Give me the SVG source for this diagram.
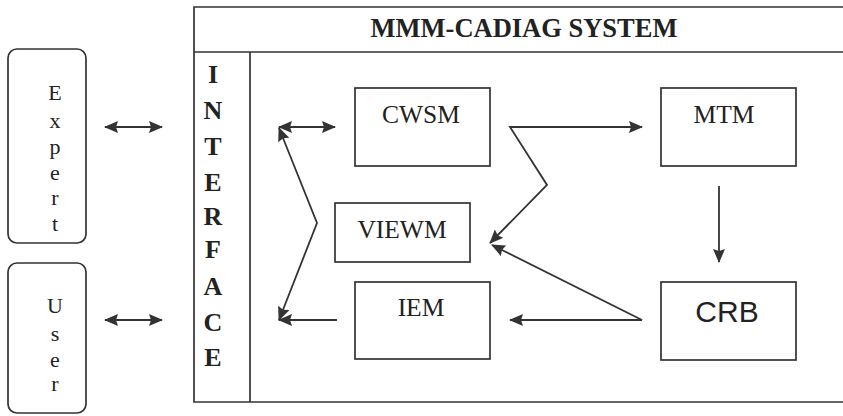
<svg xmlns="http://www.w3.org/2000/svg" width="843" height="416" viewBox="0 0 843 416">
  <defs>
    <marker id="arrow" viewBox="0 0 14 12" refX="13" refY="6" markerWidth="14" markerHeight="12" markerUnits="userSpaceOnUse" orient="auto-start-reverse">
      <path d="M0,0 L14,6 L0,12 L2,6 z" fill="#333"/>
    </marker>
    <style>
      .box { fill: none; stroke: #333; stroke-width: 1.7; }
      .con { fill: none; stroke: #333; stroke-width: 1.8; }
      .lbl { font-family: "Liberation Serif", "Times New Roman", serif; font-size: 25.5px; fill: #222; text-anchor: middle; }
      .side { font-family: "Liberation Serif", "Times New Roman", serif; font-size: 22px; fill: #222; text-anchor: middle; }
      .iface { font-family: "Liberation Serif", "Times New Roman", serif; font-size: 26px; font-weight: bold; fill: #222; text-anchor: middle; }
    </style>
  </defs>
  <rect width="843" height="416" fill="#ffffff"/>

  <!-- system frame with title band and interface column -->
  <g id="system">
    <path class="box" d="M850,7 H194 V402 H850 M194,52 H850 M250,52 V402"/>
    <text x="524" y="37" style="font-family:'Liberation Serif','Times New Roman',serif;font-size:26.5px;font-weight:bold;fill:#222" text-anchor="middle">MMM-CADIAG SYSTEM</text>
  </g>

  <g id="interface">
    <text class="iface" x="213" y="83">I</text>
    <text class="iface" x="213" y="119">N</text>
    <text class="iface" x="213" y="155">T</text>
    <text class="iface" x="213" y="191">E</text>
    <text class="iface" x="213" y="225">R</text>
    <text class="iface" x="213" y="258">F</text>
    <text class="iface" x="213" y="295">A</text>
    <text class="iface" x="213" y="331">C</text>
    <text class="iface" x="213" y="366">E</text>
  </g>

  <g id="expert">
    <rect class="box" x="8" y="49" width="78" height="194" rx="9"/>
    <text class="side" x="55" y="100">E</text>
    <text class="side" x="55" y="128">x</text>
    <text class="side" x="55" y="154">p</text>
    <text class="side" x="55" y="180">e</text>
    <text class="side" x="55" y="205">r</text>
    <text class="side" x="55" y="231">t</text>
  </g>

  <g id="user">
    <rect class="box" x="8" y="263" width="78" height="150" rx="9"/>
    <text class="side" x="55" y="313">U</text>
    <text class="side" x="55" y="341">s</text>
    <text class="side" x="55" y="367">e</text>
    <text class="side" x="55" y="391">r</text>
  </g>

  <g id="cwsm">
    <rect class="box" x="355" y="88" width="135" height="78"/>
    <text class="lbl" x="421" y="123">CWSM</text>
  </g>

  <g id="mtm">
    <rect class="box" x="661" y="88" width="135" height="78"/>
    <text class="lbl" x="724" y="123">MTM</text>
  </g>

  <g id="viewm">
    <rect class="box" x="335" y="203" width="135" height="59"/>
    <text class="lbl" x="402" y="238">VIEWM</text>
  </g>

  <g id="iem">
    <rect class="box" x="355" y="282" width="135" height="77"/>
    <text class="lbl" x="421" y="316">IEM</text>
  </g>

  <g id="crb">
    <rect class="box" x="661" y="282" width="135" height="78"/>
    <text x="727" y="322" style="font-family:'Liberation Sans',Arial,sans-serif;font-size:30px;fill:#222" text-anchor="middle">CRB</text>
  </g>

  <!-- connectors -->
  <g id="connectors">
    <line class="con" x1="105" y1="127" x2="162" y2="127" marker-start="url(#arrow)" marker-end="url(#arrow)"/>
    <line class="con" x1="105" y1="320" x2="162" y2="320" marker-start="url(#arrow)" marker-end="url(#arrow)"/>
    <line class="con" x1="279" y1="127" x2="335" y2="127" marker-start="url(#arrow)" marker-end="url(#arrow)"/>
    <path class="con" d="M279,128 L317,223 L279,320" marker-start="url(#arrow)" marker-end="url(#arrow)"/>
    <line class="con" x1="337" y1="320" x2="279" y2="320" marker-end="url(#arrow)"/>
    <path class="con" d="M642,127 L510,127 L547,185 L490,243" marker-start="url(#arrow)" marker-end="url(#arrow)"/>
    <line class="con" x1="719" y1="186" x2="719" y2="262" marker-end="url(#arrow)"/>
    <path class="con" d="M492,245 L642,320 L510,320" marker-start="url(#arrow)" marker-end="url(#arrow)"/>
  </g>
</svg>
